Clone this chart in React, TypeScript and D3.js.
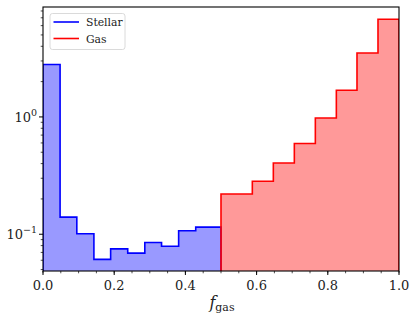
import React from "react"
import * as d3 from "d3"

const width = 416
const height = 328
const margin = { top: 7, right: 17, bottom: 57, left: 43 }

// bin edges and heights
const stellarEdges = [0, 0.048, 0.095, 0.143, 0.19, 0.238, 0.286, 0.333, 0.381, 0.429, 0.5]
const stellarValues = [2.8, 0.14, 0.101, 0.061, 0.075, 0.069, 0.085, 0.079, 0.107, 0.115]
const gasEdges = [0.5, 0.588, 0.647, 0.706, 0.765, 0.824, 0.882, 0.941, 1.0]
const gasValues = [0.22, 0.283, 0.405, 0.593, 0.98, 1.69, 3.51, 6.8]

const xTicks = [0, 0.2, 0.4, 0.6, 0.8, 1.0]
const xMinor = d3.range(0, 1.0001, 0.05)
const yMajor = [0.1, 1]
const yMinor = [0.05, 0.06, 0.07, 0.08, 0.09, 0.2, 0.3, 0.4, 0.5, 0.6, 0.7, 0.8, 0.9, 2, 3, 4, 5, 6, 7, 8]

const series = [
  { name: "Stellar", edges: stellarEdges, values: stellarValues, stroke: "#0000ff", fill: "#0000ff" },
  { name: "Gas", edges: gasEdges, values: gasValues, stroke: "#ff0000", fill: "#ff0000" },
]

const font = "DejaVu Serif, serif"

export default function App() {
  const { right, bottom, left, top } = margin
  const x0 = left
  const x1 = width - right
  const yTop = top
  const yBot = height - bottom

  const x = d3.scaleLinear().domain([0, 1]).range([x0, x1])
  const y = d3.scaleLog().domain([0.0486, 8.65]).range([yBot, yTop])

  const stepPath = (edges: number[], values: number[]) => {
    const pts: [number, number][] = [[x(edges[0]), yBot + 5]]
    values.forEach((v, i) => {
      pts.push([x(edges[i]), y(v)])
      pts.push([x(edges[i + 1]), y(v)])
    })
    pts.push([x(edges[edges.length - 1]), yBot + 5])
    return d3.line()(pts) as string
  }

  return (
    <svg width={width} height={height} style={{ position: "absolute", left: 0, top: 0, background: "#fff" }}>
      <defs>
        <clipPath id="plot">
          <rect x={x0} y={yTop} width={x1 - x0} height={yBot - yTop} />
        </clipPath>
      </defs>
      <g clipPath="url(#plot)">
        {series.map(s => {
          const d = stepPath(s.edges, s.values)
          return (
            <g key={s.name}>
              <path d={d + "Z"} fill={s.fill} fillOpacity={0.4} stroke="none" />
              <path d={d} fill="none" stroke={s.stroke} strokeWidth={1.6} />
            </g>
          )
        })}
      </g>
      {/* frame */}
      <rect x={x0} y={yTop} width={x1 - x0} height={yBot - yTop} fill="none" stroke="#000" strokeWidth={1.1} />
      {/* x ticks */}
      {xMinor.map(t => (
        <line key={"xm" + t} x1={x(t)} x2={x(t)} y1={yBot} y2={yBot + 2.3} stroke="#000" strokeWidth={0.7} />
      ))}
      {xTicks.map(t => (
        <g key={"x" + t}>
          <line x1={x(t)} x2={x(t)} y1={yBot} y2={yBot + 4} stroke="#000" strokeWidth={1} />
          <text x={x(t)} y={290} fontFamily={font} fontSize={13} textAnchor="middle" fill="#222">
            {t.toFixed(1)}
          </text>
        </g>
      ))}
      {/* y ticks */}
      {yMinor.map(t => (
        <line key={"ym" + t} x1={x0 - 2.3} x2={x0} y1={y(t)} y2={y(t)} stroke="#000" strokeWidth={0.7} />
      ))}
      {yMajor.map(t => {
        const exp = Math.round(Math.log10(t))
        return (
          <g key={"y" + t}>
            <line x1={x0 - 4} x2={x0} y1={y(t)} y2={y(t)} stroke="#000" strokeWidth={1} />
            <text x={37} y={y(t) + 5} fontFamily={font} fontSize={13} textAnchor="end" fill="#222">
              10
              <tspan fontSize={9.5} dy={-6}>
                {exp < 0 ? "\u2212" + Math.abs(exp) : exp}
              </tspan>
            </text>
          </g>
        )
      })}
      {/* x label */}
      <text x={222} y={308} fontFamily={font} fontSize={16} textAnchor="middle" fill="#222">
        <tspan fontStyle="italic">f</tspan>
        <tspan fontSize={11} dy={3}>gas</tspan>
      </text>
      {/* legend */}
      <g>
        <rect x={50} y={13.5} width={75} height={36} rx={2.5} fill="#fff" fillOpacity={0.8} stroke="#d0d0d0" strokeWidth={0.8} />
        {series.map((s, i) => (
          <g key={"lg" + s.name} transform={`translate(0, ${22 + i * 16.5})`}>
            <line x1={53.5} x2={79} y1={0} y2={0} stroke={s.stroke} strokeWidth={1.6} />
            <text x={86} y={4} fontFamily={font} fontSize={10.8} fill="#222">
              {s.name}
            </text>
          </g>
        ))}
      </g>
    </svg>
  )
}
